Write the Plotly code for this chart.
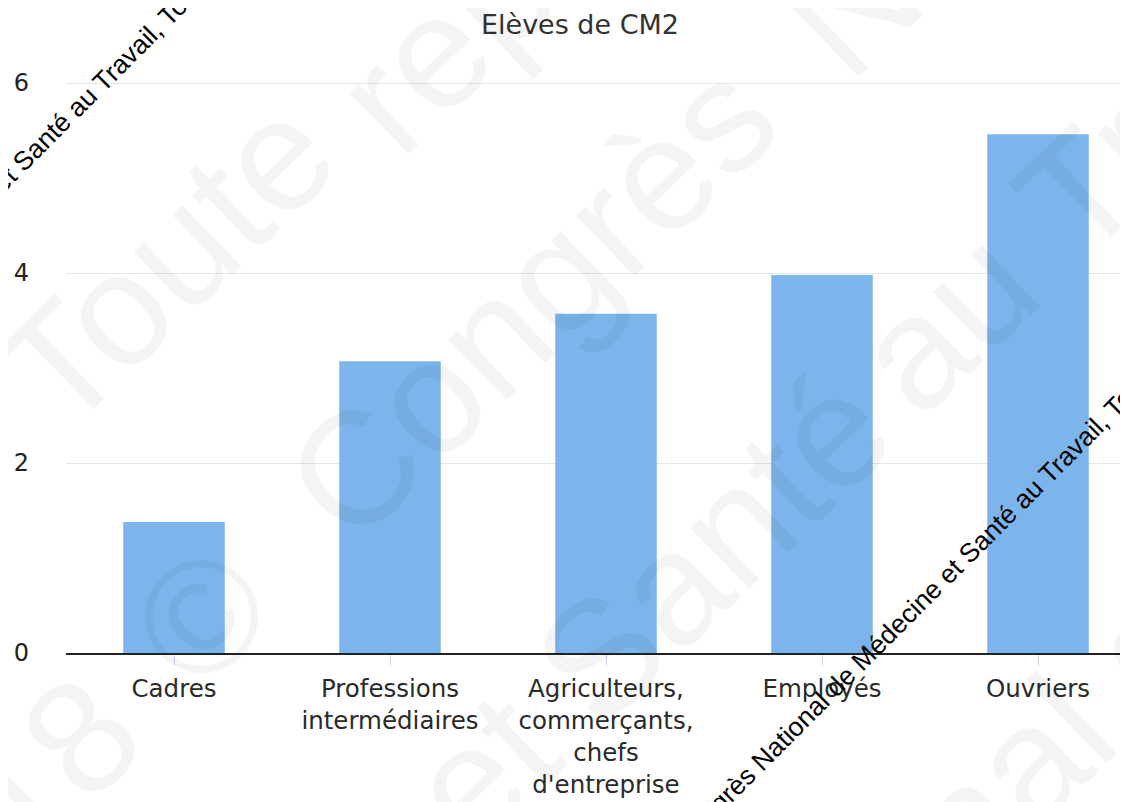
import plotly.graph_objects as go

categories = ["Cadres", "Professions<br>intermédiaires",
              "Agriculteurs,<br>commerçants,<br>chefs<br>d'entreprise",
              "Employés", "Ouvriers"]
values = [1.38, 3.07, 3.57, 3.98, 5.46]
y_ticks = [0, 2, 4, 6]
title_text = "Elèves de CM2"
stamp_text = "Congrès National de Médecine et Santé au Travail, Toute"

# page body has an 8px margin: the figure is drawn from (8, 8)
OFF = 8
FIG_W, FIG_H = 1128 - OFF, 802 - OFF
PL, PT, PB = 66, 60, 653          # plot area edges in page pixels
PR = 1128
PLOT_W, PLOT_H = PR - PL, PB - PT


def px(X):
    return (X - PL) / PLOT_W


def py(Y):
    return (PB - Y) / PLOT_H


fig = go.Figure()
fig.add_trace(go.Bar(x=list(range(len(categories))), y=values,
                     marker=dict(color="#7cb5ec", line=dict(width=0)),
                     width=0.47, hoverinfo="skip"))

fig.update_layout(
    width=FIG_W, height=FIG_H,
    margin=dict(l=PL - OFF, r=0, t=PT - OFF, b=FIG_H - (PB - OFF), pad=0),
    paper_bgcolor="white", plot_bgcolor="white",
    showlegend=False,
    title=dict(text=title_text, x=(580 - OFF) / FIG_W, xanchor="center",
               y=1 - (25 - OFF) / FIG_H, yanchor="middle",
               font=dict(family="DejaVu Sans", size=27, color="#333333")),
    font=dict(family="DejaVu Sans", color="#333333"),
)
fig.update_xaxes(
    range=[-0.5, -0.5 + PLOT_W / 216],
    tickmode="array", tickvals=list(range(len(categories))), ticktext=categories,
    tickson="boundaries", ticks="outside", ticklen=10, tickcolor="#ccd6eb", tickwidth=1,
    showline=True, linecolor="#222222", linewidth=2,
    showgrid=False, zeroline=False, ticklabelstandoff=3,
    tickfont=dict(family="DejaVu Sans", size=24.5, color="#2a2a2a"),
)
fig.update_yaxes(
    range=[0, PLOT_H / 95.0], tickvals=y_ticks,
    showgrid=True, gridcolor="#e6e6e6", gridwidth=1,
    zeroline=False, showline=False, ticks="",
    ticklabelstandoff=36,
    tickfont=dict(family="DejaVu Sans", size=24, color="#222222"),
)

# faint large watermark words (word, centre x, centre y in page pixels)
faint_words = [
    ("Toute", 165, 262), ("reproduction", 681, -187),
    ("2018", -15, 830), ("©", 201, 616), ("Congrès", 530, 300), ("National", 1021, -158),
    ("et", 482, 769), ("Santé", 712, 547), ("au", 945, 320), ("Travail,", 1230, 45),
    ("National", 874, 910), ("de", 1181, 614),
]
for w, X, Y in faint_words:
    fig.add_annotation(text=w, x=px(X), y=py(Y), xref="paper", yref="paper",
                       xanchor="center", yanchor="middle", showarrow=False, textangle=-44,
                       font=dict(family="Liberation Sans", size=160, color="rgba(0,0,0,0.045)"))

# small black stamp lines
for X, Y in [(917, 605), (-29, 213)]:
    fig.add_annotation(text=stamp_text, x=px(X), y=py(Y), xref="paper", yref="paper",
                       xanchor="center", yanchor="middle", showarrow=False, textangle=-45,
                       font=dict(family="Liberation Sans", size=26.5, color="black"))

fig.write_html("out.html")
